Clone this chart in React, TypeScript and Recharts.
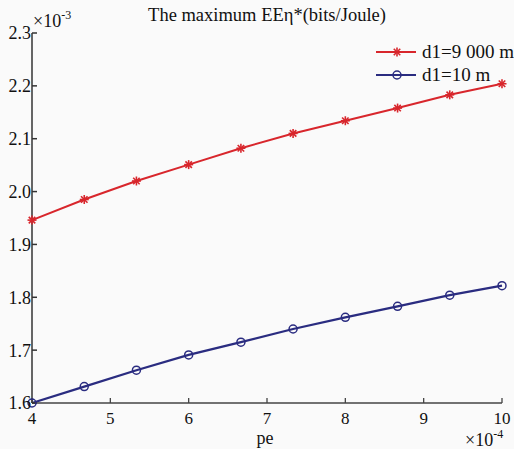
import { LineChart, Line, XAxis, YAxis, Legend, Customized } from "recharts"

// pe (x10^-4) sample points
const peValues = [4, 4.667, 5.333, 6, 6.667, 7.333, 8, 8.667, 9.333, 10]
// max EE (x10^-3 bits/Joule)
const eeFar = [1.946, 1.985, 2.02, 2.051, 2.082, 2.11, 2.134, 2.158, 2.183, 2.204]
const eeNear = [1.6, 1.631, 1.662, 1.691, 1.715, 1.74, 1.762, 1.783, 1.804, 1.822]
const xTicks = [4, 5, 6, 7, 8, 9, 10]
const yTicks = [1.6, 1.7, 1.8, 1.9, 2.0, 2.1, 2.2, 2.3]
const seriesNames = ["d1=9 000 m", "d1=10 m"]

const RED = "#d8262c"
const NAVY = "#2a2c80"
const FONT = "Liberation Serif, Times New Roman, serif"
const serif = { fontFamily: FONT }

const data = peValues.map((pe, i) => ({ pe, far: eeFar[i], near: eeNear[i] }))

function StarDot(props: any) {
  const { cx, cy } = props
  if (cx == null || cy == null) return null
  const r = 4.5
  const d = r * 0.72
  return (
    <g stroke={RED} strokeWidth={1.6}>
      <line x1={cx - r} y1={cy} x2={cx + r} y2={cy} />
      <line x1={cx} y1={cy - r} x2={cx} y2={cy + r} />
      <line x1={cx - d} y1={cy - d} x2={cx + d} y2={cy + d} />
      <line x1={cx - d} y1={cy + d} x2={cx + d} y2={cy - d} />
    </g>
  )
}

function CircleDot(props: any) {
  const { cx, cy } = props
  if (cx == null || cy == null) return null
  return <circle cx={cx} cy={cy} r={4} fill="none" stroke={NAVY} strokeWidth={1.5} />
}

function LegendBox() {
  const rows = [
    { name: seriesNames[0], color: RED, Dot: StarDot },
    { name: seriesNames[1], color: NAVY, Dot: CircleDot },
  ]
  return (
    <svg width={144} height={50}>
      {rows.map((r, i) => {
        const y = 12 + i * 23
        return (
          <g key={r.name}>
            <line x1={6} y1={y} x2={46} y2={y} stroke={r.color} strokeWidth={2} />
            <r.Dot cx={27} cy={y} />
            <text x={52} y={y + 6} fontSize={19} fill="#111" style={serif}>
              {r.name}
            </text>
          </g>
        )
      })}
    </svg>
  )
}

function Annotations() {
  return (
    <g fill="#111" style={serif}>
      <text x={267} y={21} fontSize={18.5} textAnchor="middle" style={serif}>
        The maximum EEη*(bits/Joule)
      </text>
      <text x={33} y={27} fontSize={18} style={serif}>
        ×10
        <tspan fontSize={12} dy={-8}>-3</tspan>
      </text>
      <text x={465} y={446} fontSize={18} style={serif}>
        ×10
        <tspan fontSize={12} dy={-8}>-4</tspan>
      </text>
    </g>
  )
}

export default function App() {
  return (
    <div style={{ position: "absolute", left: 0, top: 0, width: 514, height: 449, background: "#fafafa", fontFamily: FONT }}>
      <LineChart width={514} height={449} data={data} margin={{ top: 33, right: 12, bottom: 0, left: 0 }} style={serif}>
        <XAxis
          dataKey="pe"
          type="number"
          domain={[4, 10]}
          ticks={xTicks}
          height={46}
          tickSize={-5}
          tickMargin={14}
          stroke="#444"
          strokeWidth={1.3}
          tick={{ fill: "#111", fontSize: 17, style: serif }}
          label={{ value: "pe", position: "insideBottom", offset: 5, fill: "#111", fontSize: 18, style: serif, dx: -2 }}
        />
        <YAxis
          type="number"
          domain={[1.6, 2.3]}
          ticks={yTicks}
          width={32}
          tickSize={-5}
          tickMargin={6}
          stroke="#333"
          strokeWidth={1.5}
          tickFormatter={(v: number) => v.toFixed(1)}
          tick={{ fill: "#111", fontSize: 18, style: serif }}
        />
        <Legend
          layout="vertical"
          align="center"
          verticalAlign="middle"
          content={() => <LegendBox />}
          wrapperStyle={{ left: 370, top: 40, width: 144, height: 50 }}
        />
        <Line dataKey="far" name={seriesNames[0]} stroke={RED} strokeWidth={2} dot={<StarDot />} isAnimationActive={false} />
        <Line dataKey="near" name={seriesNames[1]} stroke={NAVY} strokeWidth={2.3} dot={<CircleDot />} isAnimationActive={false} />
        <Customized component={Annotations} />
      </LineChart>
    </div>
  )
}
